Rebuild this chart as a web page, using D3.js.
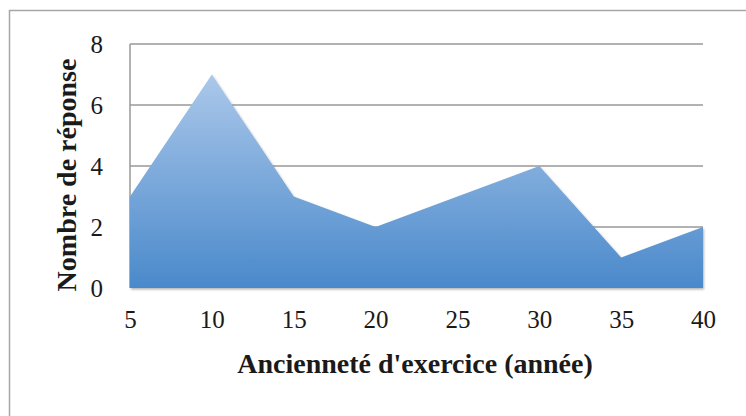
<!DOCTYPE html>
<html>
<head>
<meta charset="utf-8">
<script src="https://cdn.jsdelivr.net/npm/d3@7"></script>
<style>
  html, body { margin: 0; padding: 0; background: #fff; }
  svg { display: block; }
  text { font-family: "Liberation Serif", "DejaVu Serif", serif; fill: #1a1a1a; }
</style>
</head>
<body>
<svg id="chart" width="746" height="416"></svg>
<script>
const years = [5, 10, 15, 20, 25, 30, 35, 40];
const responses = [3, 7, 3, 2, 3, 4, 1, 2];
const yTicks = [0, 2, 4, 6, 8];
const xTitle = "Ancienneté d'exercice (année)";
const yTitle = "Nombre de réponse";

const svg = d3.select("#chart");
const W = 746, H = 416;
const m = { left: 130, right: 43, top: 44, bottom: 128 };

// outer frame
svg.append("rect")
  .attr("x", 9.5).attr("y", 10.5)
  .attr("width", W + 20).attr("height", H + 20)
  .attr("fill", "#fff").attr("stroke", "#a6a6a6").attr("stroke-width", 1.5);

const x = d3.scaleLinear().domain([5, 40]).range([m.left, W - m.right]);
const y = d3.scaleLinear().domain([0, 8]).range([H - m.bottom, m.top]);

const defs = svg.append("defs");
const grad = defs.append("linearGradient")
  .attr("id", "areaGrad").attr("gradientUnits", "userSpaceOnUse")
  .attr("x1", 0).attr("x2", 0).attr("y1", y(7)).attr("y2", y(0));
grad.append("stop").attr("offset", "0%").attr("stop-color", "#abc8ea");
grad.append("stop").attr("offset", "100%").attr("stop-color", "#4a89cb");

const filter = defs.append("filter").attr("id", "shadow")
  .attr("x", "-5%").attr("y", "-5%").attr("width", "110%").attr("height", "115%");
filter.append("feDropShadow").attr("dx", 1).attr("dy", 1.5)
  .attr("stdDeviation", 1.2).attr("flood-color", "#000").attr("flood-opacity", 0.3);

// gridlines
svg.append("g")
  .selectAll("line").data(yTicks.filter(d => d > 0)).join("line")
  .attr("x1", m.left).attr("x2", W - m.right)
  .attr("y1", d => y(d)).attr("y2", d => y(d))
  .attr("stroke", "#999").attr("stroke-width", 1.5);

// left axis line
svg.append("line")
  .attr("x1", m.left).attr("x2", m.left)
  .attr("y1", y(8)).attr("y2", y(0))
  .attr("stroke", "#999").attr("stroke-width", 1.5);

// area
const area = d3.area()
  .x((d, i) => x(years[i]))
  .y0(y(0))
  .y1(d => y(d));
svg.append("path")
  .datum(responses)
  .attr("d", area)
  .attr("fill", "url(#areaGrad)")
  .attr("filter", "url(#shadow)");

// y axis labels
const yAxis = d3.axisLeft(y).tickValues(yTicks).tickSize(0).tickPadding(27);
const gy = svg.append("g").attr("transform", `translate(${m.left},0)`).call(yAxis);
gy.select(".domain").remove();
gy.selectAll("text").style("font-size", "25px").attr("dy", "0.35em")
  .style("font-family", "'Liberation Serif', serif").attr("fill", "#1a1a1a");

// x axis labels
const xAxis = d3.axisBottom(x).tickValues(years).tickSize(0).tickPadding(22);
const gx = svg.append("g").attr("transform", `translate(0,${y(0)})`).call(xAxis);
gx.select(".domain").remove();
gx.selectAll("text").style("font-size", "25px")
  .style("font-family", "'Liberation Serif', serif").attr("fill", "#1a1a1a");

// titles
svg.append("text")
  .attr("x", 415).attr("y", 373)
  .attr("text-anchor", "middle")
  .style("font-size", "28px").style("font-weight", "bold")
  .text(xTitle);

svg.append("text")
  .attr("transform", `translate(76,175) rotate(-90)`)
  .attr("text-anchor", "middle")
  .style("font-size", "28px").style("font-weight", "bold")
  .text(yTitle);
</script>
</body>
</html>
